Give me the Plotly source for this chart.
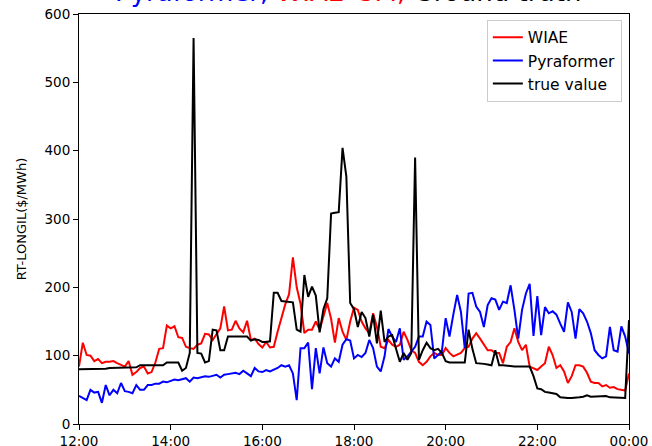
import pandas as pd
import plotly.graph_objects as go

# 5-minute intervals from 12:00 to 00:00
times = pd.date_range("2021-06-01 12:00", "2021-06-02 00:00", freq="5min")

wiae = [
    84, 119, 101, 100, 92, 95, 89, 91, 91, 92,
    89, 86, 84, 92, 72, 76, 82, 84, 74, 76,
    90, 110, 111, 144, 140, 143, 127, 126, 113, 111,
    110, 116, 118, 132, 131, 123, 132, 140, 172, 137,
    138, 151, 140, 134, 151, 123, 125, 117, 112, 120,
    112, 113, 135, 155, 175, 190, 244, 200, 176, 133,
    138, 138, 150, 138, 157, 177, 154, 119, 155, 135,
    123, 150, 170, 167, 150, 140, 133, 162, 142, 113,
    111, 123, 116, 113, 116, 135, 123, 108, 104, 91,
    86, 91, 99, 104, 101, 101, 111, 104, 99, 101,
    104, 111, 113, 125, 133, 125, 116, 108, 108, 104,
    104, 89, 113, 120, 140, 120, 108, 116, 84, 82,
    79, 84, 89, 113, 101, 82, 86, 77, 60, 70,
    86, 86, 84, 75, 62, 60, 60, 55, 57, 53,
    54, 51, 50, 49, 74,
]

pyraformer = [
    41, 38, 35, 50, 46, 47, 31, 57, 42, 50,
    45, 60, 48, 47, 45, 57, 50, 50, 57, 57,
    59, 59, 62, 61, 63, 65, 64, 66, 67, 62,
    68, 67, 69, 70, 69, 71, 72, 68, 72, 73,
    74, 75, 73, 78, 74, 70, 82, 77, 76, 79,
    77, 79, 82, 86, 84, 86, 74, 35, 111, 111,
    119, 51, 111, 74, 112, 89, 84, 96, 91, 116,
    124, 122, 96, 101, 98, 104, 123, 111, 84, 77,
    99, 139, 128, 120, 140, 94, 99, 106, 113, 128,
    128, 150, 145, 96, 101, 106, 155, 128, 160, 189,
    164, 111, 191, 192, 172, 164, 142, 174, 184, 182,
    167, 179, 177, 203, 167, 125, 167, 191, 205, 129,
    187, 130, 171, 162, 165, 160, 147, 135, 178, 164,
    125, 168, 162, 150, 133, 108, 101, 96, 99, 142,
    108, 106, 143, 128, 103,
]

true_value = [
    80, 80, 80, 80, 81, 81, 81, 81, 82, 82,
    82, 82, 83, 83, 83, 83, 86, 86, 86, 86,
    86, 86, 86, 90, 90, 89, 90, 78, 82, 104,
    565, 104, 103, 90, 92, 138, 137, 108, 108, 128,
    128, 128, 128, 128, 128, 122, 124, 123, 120, 120,
    121, 192, 192, 180, 179, 179, 178, 138, 135, 218,
    186, 201, 188, 134, 168, 184, 308, 309, 310, 404,
    362, 177, 168, 142, 164, 155, 128, 160, 118, 166,
    120, 128, 130, 110, 91, 104, 94, 104, 390, 94,
    108, 119, 111, 108, 110, 104, 92, 90, 90, 90,
    90, 90, 138, 110, 89, 89, 88, 87, 86, 108,
    86, 86, 85, 85, 84, 84, 84, 84, 84, 70,
    52, 51, 47, 46, 45, 44, 39, 38, 38, 38,
    38, 39, 40, 42, 40, 40, 40, 40, 41, 39,
    39, 38, 38, 38, 152,
]

series = [
    ("WIAE", wiae, "red"),
    ("Pyraformer", pyraformer, "blue"),
    ("true value", true_value, "black"),
]

fig = go.Figure()
for name, values, color in series:
    fig.add_trace(go.Scatter(
        x=times, y=values, mode="lines", name=name,
        line=dict(color=color, width=2),
    ))

font_main = "DejaVu Sans, sans-serif"

fig.update_layout(
    width=652, height=446,
    margin=dict(l=79, r=23, t=14, b=22, autoexpand=False),
    paper_bgcolor="white", plot_bgcolor="white",
    font=dict(family=font_main, size=13, color="black"),
    showlegend=True,
    legend=dict(
        x=0.987, y=0.986, xanchor="right", yanchor="top",
        bgcolor="rgba(255,255,255,0.8)", bordercolor="#cccccc", borderwidth=1,
        font=dict(size=15.5), tracegroupgap=2, itemwidth=30,
    ),
    annotations=[dict(
        text="<span style='color:blue'>Pyraformer,</span> "
             "<span style='color:red'>WIAE-GM,</span> "
             "<span style='color:black'>Ground truth</span>",
        xref="paper", yref="paper", x=0.49, y=1,
        xanchor="center", yanchor="bottom", yshift=5,
        showarrow=False, font=dict(size=26, family=font_main),
    )],
)

fig.update_xaxes(
    range=[times[0], times[-1]],
    tickformat="%H:%M", dtick=2 * 3600 * 1000,
    showline=True, linecolor="black", linewidth=1, mirror=True,
    ticks="outside", ticklen=5, tickcolor="black",
    showgrid=False, zeroline=False, automargin=False,
    tickfont=dict(size=13.5),
)
fig.update_yaxes(
    range=[0, 600], dtick=100,
    showline=True, linecolor="black", linewidth=1, mirror=True,
    ticks="outside", ticklen=5, tickcolor="black",
    showgrid=False, zeroline=False, automargin=False,
    tickfont=dict(size=13.5),
    title=dict(text="RT-LONGIL($/MWh)", font=dict(size=13), standoff=14),
)

fig.write_html("out.html")
